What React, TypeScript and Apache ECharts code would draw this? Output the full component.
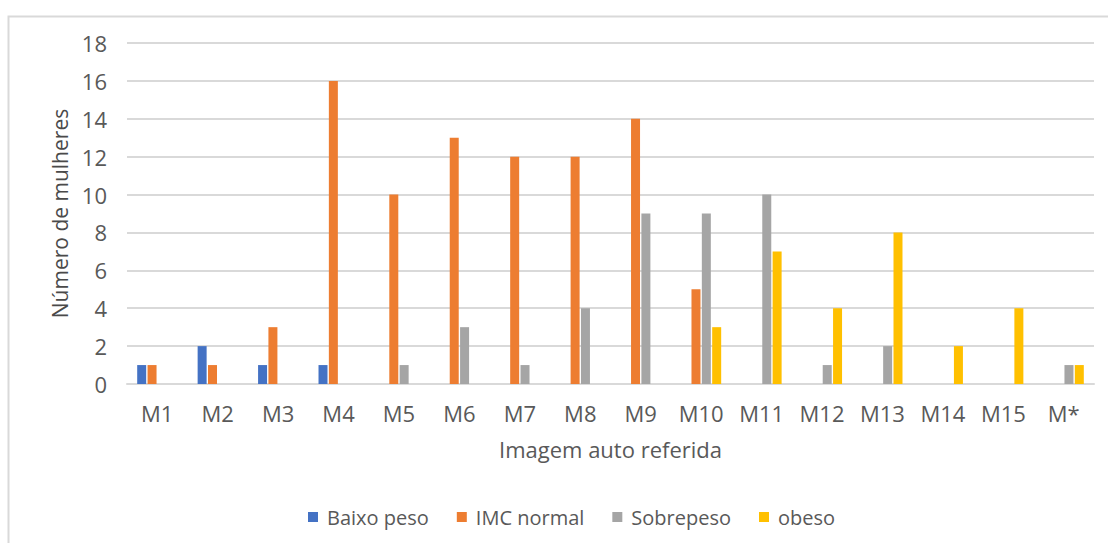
import React, { useEffect, useRef } from "react";
import * as echarts from "echarts";

const categories = ["M1", "M2", "M3", "M4", "M5", "M6", "M7", "M8", "M9", "M10", "M11", "M12", "M13", "M14", "M15", "M*"];
const baixoPeso = [1, 2, 1, 1, null, null, null, null, null, null, null, null, null, null, null, null];
const imcNormal = [1, 1, 3, 16, 10, 13, 12, 12, 14, 5, null, null, null, null, null, null];
const sobrepeso = [null, null, null, null, 1, 3, 1, 4, 9, 9, 10, 1, 2, null, null, 1];
const obeso = [null, null, null, null, null, null, null, null, null, 3, 7, 4, 8, 2, 4, 1];
const seriesNames = ["Baixo peso", "IMC normal", "Sobrepeso", "obeso"];
const colors = ["#4472C4", "#ED7D31", "#A5A5A5", "#FFC000"];

const FONT = "'Open Sans', Lato, sans-serif";

export default function App() {
  const ref = useRef<HTMLDivElement>(null);
  useEffect(() => {
    if (!ref.current) return;
    const chart = echarts.init(ref.current, null, { renderer: "svg" });
    const data = [baixoPeso, imcNormal, sobrepeso, obeso];
    chart.setOption({
      animation: false,
      backgroundColor: "#ffffff",
      textStyle: { fontFamily: FONT },
      graphic: [
        {
          type: "rect",
          shape: { x: 8.5, y: 16.5, width: 1110, height: 540 },
          style: { fill: "none", stroke: "#d9d9d9", lineWidth: 2 },
          silent: true,
        },
      ],
      grid: { left: 127, right: 14, top: 43, bottom: 159 },
      legend: {
        data: seriesNames,
        top: 502,
        left: 303,
        icon: "rect",
        itemWidth: 10,
        itemHeight: 10,
        itemGap: 28,
        textStyle: { fontFamily: FONT, fontSize: 20, color: "#595959", padding: [0, 0, 0, 4] },
      },
      xAxis: {
        type: "category",
        data: categories,
        name: "Imagem auto referida",
        nameLocation: "middle",
        nameGap: 54,
        nameTextStyle: { fontFamily: FONT, fontSize: 22, color: "#595959" },
        axisLine: { lineStyle: { color: "#d9d9d9", width: 2 } },
        axisTick: { show: false },
        axisLabel: { fontFamily: FONT, fontSize: 22, color: "#595959", margin: 18 },
      },
      yAxis: {
        type: "value",
        min: 0,
        max: 18,
        interval: 2,
        name: "Número de mulheres",
        nameLocation: "middle",
        nameGap: 55,
        nameRotate: 90,
        nameTextStyle: { fontFamily: FONT, fontSize: 21, color: "#4a4a4a" },
        axisLine: { show: false },
        axisTick: { show: false },
        splitLine: { lineStyle: { color: "#d9d9d9", width: 2 } },
        axisLabel: { fontFamily: FONT, fontSize: 22, color: "#595959", margin: 20 },
      },
      series: seriesNames.map((name, i) => ({
        name,
        type: "bar",
        data: data[i],
        barWidth: 9,
        barGap: "15%",
        itemStyle: { color: colors[i] },
      })),
    });
    return () => chart.dispose();
  }, []);
  return (
    <div
      ref={ref}
      style={{ position: "fixed", left: 0, top: 0, width: 1108, height: 543 }}
    />
  );
}
